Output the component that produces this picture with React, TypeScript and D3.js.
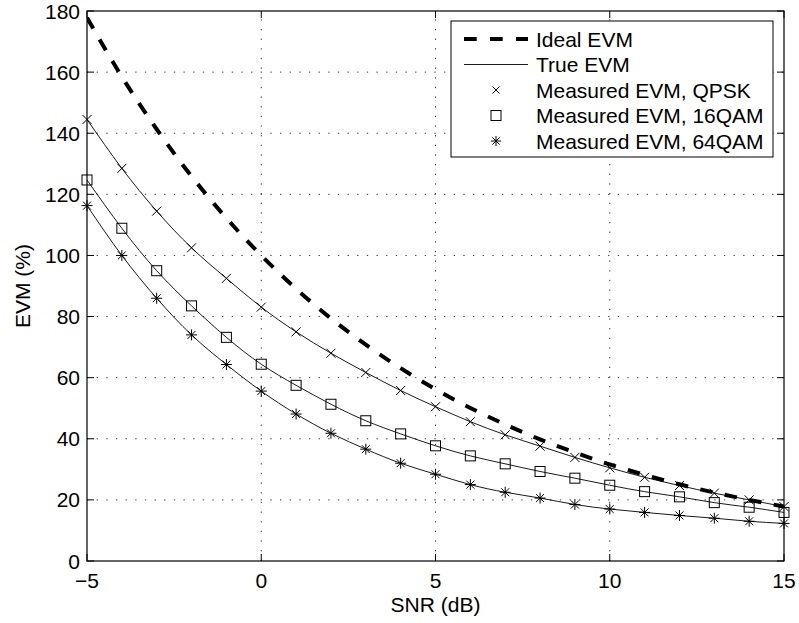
import React from 'react';
import * as d3 from 'd3';

const snrDb = [-5, -4, -3, -2, -1, 0, 1, 2, 3, 4, 5, 6, 7, 8, 9, 10, 11, 12, 13, 14, 15];
const idealEvm = [177.8, 158.5, 141.3, 125.9, 112.2, 100, 89.1, 79.4, 70.8, 63.1, 56.2, 50.1, 44.7, 39.8, 35.5, 31.6, 28.2, 25.1, 22.4, 20.0, 17.8];
const evmQpsk = [144.5, 128.5, 114.5, 102.5, 92.5, 83.1, 75.0, 68.0, 61.7, 55.8, 50.5, 45.6, 41.3, 37.6, 33.9, 30.5, 27.4, 24.7, 22.2, 20.0, 17.8];
const evm16Qam = [124.7, 108.9, 95.0, 83.5, 73.2, 64.4, 57.5, 51.3, 45.9, 41.6, 37.7, 34.4, 31.8, 29.3, 27.1, 24.8, 22.7, 21.0, 19.1, 17.6, 15.9];
const evm64Qam = [116.3, 100.0, 86.0, 74.0, 64.3, 55.6, 48.1, 41.8, 36.6, 32.0, 28.4, 25.0, 22.5, 20.6, 18.5, 17.0, 15.9, 14.9, 14.0, 13.0, 12.3];

const xTicks = [-5, 0, 5, 10, 15];
const yTicks = [0, 20, 40, 60, 80, 100, 120, 140, 160, 180];
const xLabel = 'SNR (dB)';
const yLabel = 'EVM (%)';
const legendLabels = ['Ideal EVM', 'True EVM', 'Measured EVM, QPSK', 'Measured EVM, 16QAM', 'Measured EVM, 64QAM'];

const W = 799;
const H = 623;
const L = 87, R = 784, T = 11, B = 561;
const FONT = 'Liberation Sans, Arial, Helvetica, sans-serif';
const FS = 21;

function XMark({ x, y, s }: { x: number; y: number; s: number }) {
  return <path d={`M${x - s},${y - s}L${x + s},${y + s}M${x - s},${y + s}L${x + s},${y - s}`} stroke="#000" strokeWidth={1} fill="none" />;
}
function SqMark({ x, y, s }: { x: number; y: number; s: number }) {
  return <rect x={x - s} y={y - s} width={2 * s} height={2 * s} stroke="#000" strokeWidth={1} fill="none" />;
}
function StarMark({ x, y, s }: { x: number; y: number; s: number }) {
  const d = s * 0.72;
  return (
    <path
      d={`M${x - s},${y}L${x + s},${y}M${x},${y - s}L${x},${y + s}M${x - d},${y - d}L${x + d},${y + d}M${x - d},${y + d}L${x + d},${y - d}`}
      stroke="#000"
      strokeWidth={1}
      fill="none"
    />
  );
}

export default function App() {
  const x = d3.scaleLinear().domain([-5, 15]).range([L, R]);
  const y = d3.scaleLinear().domain([0, 180]).range([B, T]);
  const line = d3
    .line<number>()
    .x((_, i) => x(snrDb[i]))
    .y((v) => y(v))
    .curve(d3.curveNatural);

  const series = [
    { data: evmQpsk, Mark: XMark, s: 4.5 },
    { data: evm16Qam, Mark: SqMark, s: 5 },
    { data: evm64Qam, Mark: StarMark, s: 5.5 },
  ];

  const tick = 7;
  const gridDash = '1.3,8.35';

  const lgX = 451, lgY = 21, lgW = 322, lgH = 136;
  const rowY = (i: number) => lgY + 18 + i * 25.5;
  const lineX1 = 464, lineX2 = 528, textX = 536, markX = 496;

  return (
    <svg width={W} height={H} style={{ position: 'absolute', left: 0, top: 0, background: '#fff' }} fontFamily={FONT}>
      <rect x={0} y={0} width={W} height={H} fill="#fff" />
      {/* grid */}
      {xTicks.slice(1, -1).map((t) => (
        <line key={'gx' + t} x1={x(t)} x2={x(t)} y1={B} y2={T} stroke="#333" strokeWidth={1} strokeDasharray={gridDash} />
      ))}
      {yTicks.slice(1, -1).map((t) => (
        <line key={'gy' + t} x1={L} x2={R} y1={y(t)} y2={y(t)} stroke="#333" strokeWidth={1} strokeDasharray={gridDash} />
      ))}
      {/* ticks */}
      {xTicks.map((t) => (
        <g key={'tx' + t}>
          <line x1={x(t)} x2={x(t)} y1={B} y2={B - tick} stroke="#000" strokeWidth={1} />
          <line x1={x(t)} x2={x(t)} y1={T} y2={T + tick} stroke="#000" strokeWidth={1} />
          <text x={x(t)} y={588} textAnchor="middle" fontSize={FS} fill="#000">
            {t < 0 ? '\u2212' + Math.abs(t) : String(t)}
          </text>
        </g>
      ))}
      {yTicks.map((t) => (
        <g key={'ty' + t}>
          <line x1={L} x2={L + tick} y1={y(t)} y2={y(t)} stroke="#000" strokeWidth={1} />
          <line x1={R} x2={R - tick} y1={y(t)} y2={y(t)} stroke="#000" strokeWidth={1} />
          <text x={80} y={y(t) + 7.5} textAnchor="end" fontSize={FS} fill="#000">
            {t}
          </text>
        </g>
      ))}
      {/* curves */}
      <defs>
        <clipPath id="plotclip">
          <rect x={L} y={T} width={R - L} height={B - T} />
        </clipPath>
      </defs>
      <g clipPath="url(#plotclip)">
        {series.map((sr, k) => (
          <path key={'l' + k} d={line(sr.data) || ''} fill="none" stroke="#000" strokeWidth={0.9} />
        ))}
        <path d={line(idealEvm) || ''} fill="none" stroke="#000" strokeWidth={4} strokeDasharray="12.5,12.5" />
      </g>
      {series.map((sr, k) => (
        <g key={'m' + k}>
          {sr.data.map((v, i) => (
            <sr.Mark key={i} x={x(snrDb[i])} y={y(v)} s={sr.s} />
          ))}
        </g>
      ))}
      {/* axes box */}
      <rect x={L} y={T} width={R - L} height={B - T} fill="none" stroke="#000" strokeWidth={1.2} />
      {/* labels */}
      <text x={(L + R) / 2} y={612} textAnchor="middle" fontSize={FS} fill="#000">
        {xLabel}
      </text>
      <text transform={`translate(30,${(T + B) / 2}) rotate(-90)`} textAnchor="middle" fontSize={FS} fill="#000">
        {yLabel}
      </text>
      {/* legend */}
      <rect x={lgX} y={lgY} width={lgW} height={lgH} fill="#fff" stroke="#000" strokeWidth={1} />
      <line x1={lineX1} x2={lineX2} y1={rowY(0)} y2={rowY(0)} stroke="#000" strokeWidth={4} strokeDasharray="12.7,13.3" />
      <line x1={lineX1} x2={lineX2} y1={rowY(1)} y2={rowY(1)} stroke="#000" strokeWidth={0.9} />
      <XMark x={markX} y={rowY(2)} s={3.5} />
      <SqMark x={markX} y={rowY(3)} s={5} />
      <StarMark x={markX} y={rowY(4)} s={5} />
      {legendLabels.map((lab, i) => (
        <text key={lab} x={textX} y={rowY(i) + 7.5} fontSize={FS} fill="#000">
          {lab}
        </text>
      ))}
    </svg>
  );
}
